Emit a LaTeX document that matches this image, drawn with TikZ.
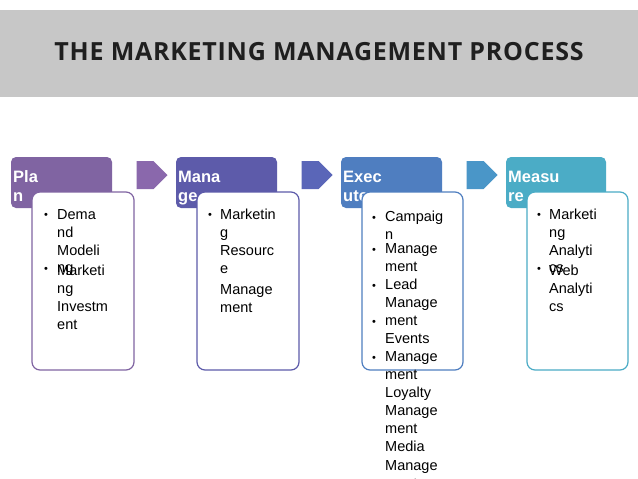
\documentclass[tikz,border=0pt]{standalone}
\usepackage{fontspec}
\setmainfont{Liberation Sans}
\newfontfamily\titlefont[LetterSpace=3]{Open Sans}
\usetikzlibrary{shapes.arrows}
\definecolor{cA}{HTML}{8064A2}
\definecolor{cB}{HTML}{5D5BAA}
\definecolor{cC}{HTML}{4F7EC0}
\definecolor{cD}{HTML}{4BACC6}
\definecolor{aA}{HTML}{8A68AC}
\definecolor{aB}{HTML}{5A66B8}
\definecolor{aC}{HTML}{4A96C8}
\tikzset{
 hdr/.style={rounded corners=5pt},
 card/.style={fill=white,draw=#1,line width=1.2pt,rounded corners=8pt},
 htxt/.style={anchor=base west,inner sep=0,text=white,font=\fontsize{16.5}{16.5}\selectfont\bfseries},
 t/.style={anchor=base west,inner sep=0,font=\fontsize{14.5}{14.5}\selectfont},
 bul/.style={anchor=base west,inner sep=0,font=\fontsize{11}{11}\selectfont},
 arr/.style={single arrow,draw=none,fill=#1,minimum height=31pt,minimum width=28pt,single arrow head extend=0pt,inner sep=0}
}
\begin{document}
\begin{tikzpicture}[x=1pt,y=-1pt]
\useasboundingbox (0,0) rectangle (638,479);
\fill[white] (0,0) rectangle (638,479);
\fill[black!22] (0,10) rectangle (638,97);
\node[inner sep=0,font=\titlefont\bfseries\fontsize{25}{25}\selectfont,text=black!88] (title) at (319,52) {THE MARKETING MANAGEMENT PROCESS};
% arrows
\node[arr=aA] (ar1) at (145,175) {};
\node[arr=aB] (ar2) at (310,175) {};
\node[arr=aC] (ar3) at (475,175) {};
% headers
\fill[hdr,cA] (11,157) rectangle (112,208);
\fill[hdr,cB] (176,157) rectangle (277,208);
\fill[hdr,cC] (341,157) rectangle (442,208);
\fill[hdr,cD] (506,157) rectangle (606,208);
\node[htxt] (h1a) at (13,182) {Pla}; \node[htxt] (h1b) at (13,201) {n};
\node[htxt] (h2a) at (178,182) {Mana}; \node[htxt] (h2b) at (178,201) {ge};
\node[htxt] (h3a) at (343,182) {Exec}; \node[htxt] (h3b) at (343,201) {ute};
\node[htxt] (h4a) at (508,182) {Measu}; \node[htxt] (h4b) at (508,201) {re};
% cards
\draw[card=cA] (32,192) rectangle (134,370);
\draw[card=cB] (197,192) rectangle (299,370);
\draw[card=cC] (362,192) rectangle (463,370);
\draw[card=cD] (527,192) rectangle (628,370);
% col1
\node[bul] at (44,218) {•};
\node[t] at (57,219) {Dema}; \node[t] at (57,237) {nd}; \node[t] at (57,255) {Modeli}; \node[t] at (57,272) {ng};
\node[bul] at (44,272) {•};
\node[t] at (57,275) {Marketi}; \node[t] at (57,293) {ng}; \node[t] at (57,311) {Investm}; \node[t] at (57,329) {ent};
% col2
\node[bul] at (208,218) {•};
\node[t] at (220,219) {Marketin}; \node[t] at (220,237) {g}; \node[t] at (220,255) {Resourc}; \node[t] at (220,273) {e}; \node[t] at (220,294) {Manage}; \node[t] at (220,312) {ment};
% col3
\node[bul] at (372,221) {•}; \node[t] at (385,221) {Campaig}; \node[t] at (385,239) {n};
\node[bul] at (372,253) {•}; \node[t] at (385,253) {Manage}; \node[t] at (385,271) {ment};
\node[bul] at (372,289) {•}; \node[t] at (385,289) {Lead}; \node[t] at (385,307) {Manage};
\node[bul] at (372,325) {•}; \node[t] at (385,325) {ment}; \node[t] at (385,343) {Events};
\node[bul] at (372,361) {•}; \node[t] at (385,361) {Manage}; \node[t] at (385,379) {ment};
\node[t] at (385,397) {Loyalty}; \node[t] at (385,415) {Manage}; \node[t] at (385,433) {ment}; \node[t] at (385,451) {Media}; \node[t] at (385,470) {Manage}; \node[t] at (385,488) {ment};
% col4
\node[bul] at (537,218) {•};
\node[t] at (549,219) {Marketi}; \node[t] at (549,237) {ng}; \node[t] at (549,255) {Analyti}; \node[t] at (549,272) {cs};
\node[bul] at (537,272) {•};
\node[t] at (549,275) {Web}; \node[t] at (549,293) {Analyti}; \node[t] at (549,311) {cs};
\end{tikzpicture}
\end{document}
